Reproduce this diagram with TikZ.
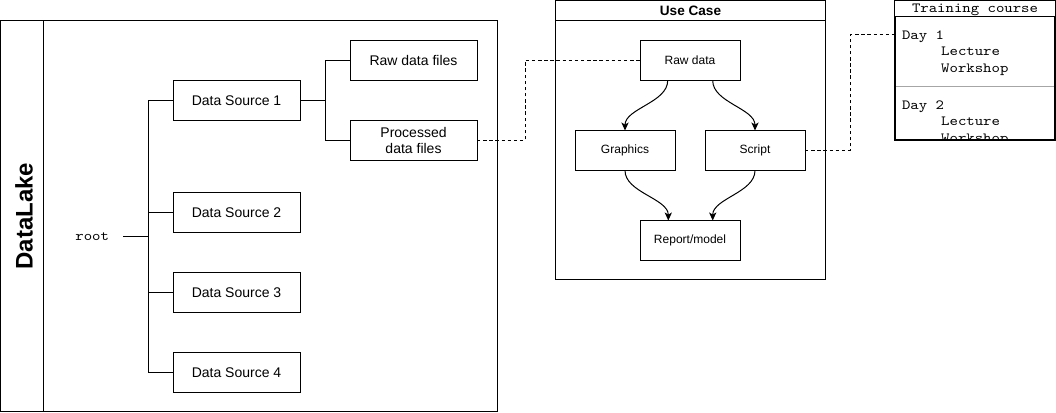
\documentclass[tikz,border=0pt]{standalone}
\usepackage{fontspec}
\setmainfont{Liberation Sans}
\setmonofont{Latin Modern Mono}[FakeStretch=1.143]
\usetikzlibrary{arrows.meta,calc}
\begin{document}
\begin{tikzpicture}[x=0.75pt,y=-0.75pt, line width=0.75pt,
  box/.style={draw, rectangle, inner sep=0pt, outer sep=0pt, minimum width=95.25pt, minimum height=30pt, font=\fontsize{10.5}{11.8}\selectfont, align=center},
  ubox/.style={box, minimum width=75pt, font=\fontsize{9}{10.8}\selectfont},
  mono/.style={font=\ttfamily\fontsize{10.5}{12.6}\selectfont, inner sep=0pt, anchor=base west},
  dline/.style={dash pattern=on 2.6pt off 2pt},
  arr/.style={-{Stealth[length=6pt,width=5.4pt,inset=1.6pt]}},
]
\useasboundingbox (0,0) rectangle (1056,413);
% DataLake container
\draw (0.5,20.5) rectangle (497.5,411.5);
\draw (43.5,20.5) -- (43.5,411.5);
\node[rotate=90, font=\bfseries\fontsize{18}{20}\selectfont, inner sep=0pt] (dl) at (24,216) {DataLake};
\node[font=\ttfamily\fontsize{10.5}{12.6}\selectfont, inner sep=0pt, anchor=east] (root) at (109.5,237) {root};
\coordinate (j) at (148,237);
\coordinate (rootout) at (123,237);
\node[box] (ds1) at (236.5,100.5) {Data Source 1};
\node[box] (ds2) at (236.5,212.5) {Data Source 2};
\node[box] (ds3) at (236.5,292.5) {Data Source 3};
\node[box] (ds4) at (236.5,372.5) {Data Source 4};
\node[box] (rf) at (413.5,60.5) {Raw data files};
\node[box] (pd) at (413.5,140.5) {Processed\\data files};
\coordinate (k) at (325,100.5);
\draw (rootout) -- (j);
\draw (j) |- (ds1.west);
\draw (j) |- (ds2.west);
\draw (j) |- (ds3.west);
\draw (j) |- (ds4.west);
\draw (ds1.east) -- (k);
\draw (k) |- (rf.west);
\draw (k) |- (pd.west);
% Use case container
\draw (555.5,0.5) rectangle (825.5,280);
\draw (555.5,20.5) -- (825.5,20.5);
\node[font=\bfseries\fontsize{10.2}{12}\selectfont, inner sep=0pt] (uct) at (690.5,11) {Use Case};
\node[ubox] (rd) at (690,60.5) {Raw data};
\node[ubox] (gr) at (625,150.5) {Graphics};
\node[ubox] (sc) at (755,150.5) {Script};
\node[ubox] (rm) at (690,240.5) {Report/model};
\draw[arr] ($(rd.south)+(-22.3,0)$) .. controls +(0,22) and +(0,-22) .. (gr.north);
\draw[arr] ($(rd.south)+(22.7,0)$) .. controls +(0,22) and +(0,-22) .. (sc.north);
\draw[arr] (gr.south) .. controls +(0,22) and +(0,-22) .. ($(rm.north)+(-21.7,0)$);
\draw[arr] (sc.south) .. controls +(0,22) and +(0,-22) .. ($(rm.north)+(22.7,0)$);
% Training course
\draw (894.5,0.5) rectangle (1055.5,141);
\draw (895.5,16.5) rectangle (1054.5,140);
\draw[gray!70] (896,86.5) -- (1054,86.5);
\node[font=\ttfamily\fontsize{10.5}{12.6}\selectfont, inner sep=0pt, anchor=base] (tct) at (975,12.7) {Training course};
\begin{scope}
\clip (896,17) rectangle (1054,139.3);
\node[mono] (d1) at (901.5,39.3) {Day 1};
\node[mono] (l1) at (940.7,56) {Lecture};
\node[mono] (w1) at (940.7,72.7) {Workshop};
\node[mono] (d2) at (901.5,109.3) {Day 2};
\node[mono] (l2) at (940.7,125.8) {Lecture};
\node[mono] (w2) at (940.7,142.3) {Workshop};
\end{scope}
\coordinate (tcin) at (895,35);
% dashed links
\draw[dline] (pd.east) -- ++(48,0) |- (rd.west);
\draw[dline] (sc.east) -- ++(45,0) |- (tcin);
\end{tikzpicture}
\end{document}
